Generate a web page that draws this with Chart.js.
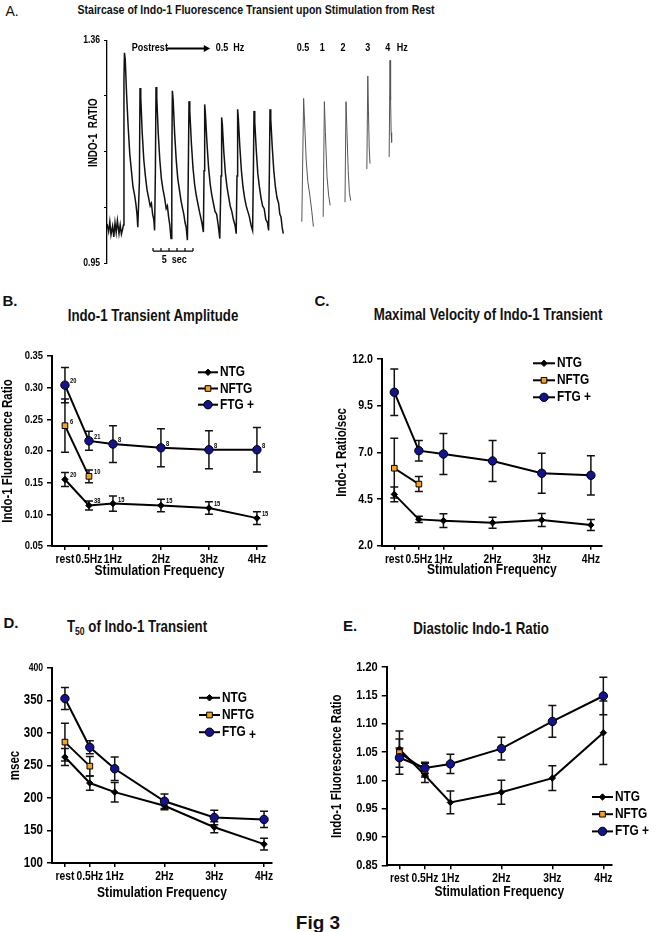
<!DOCTYPE html>
<html><head><meta charset="utf-8">
<script src="https://cdn.jsdelivr.net/npm/chart.js@4.4.0/dist/chart.umd.min.js"></script>
<style>
html,body{margin:0;padding:0;background:#fff;width:656px;height:932px;overflow:hidden;position:relative;}
canvas{position:absolute;display:block;}
.t{position:absolute;white-space:nowrap;font-family:'Liberation Sans',Arial,sans-serif;font-weight:bold;color:#111;transform:translate(-50%,-50%) scaleX(0.82);line-height:1;}
.w{transform:translate(-50%,-50%);}
sub{font-size:65%;vertical-align:-3px;}
</style></head><body>
<div class="t w" style="left:12px;top:11px;font-size:14px;font-weight:normal;">A.</div>
<div class="t" style="left:256px;top:10px;font-size:12.9px;">Staircase of Indo-1 Fluorescence Transient upon Stimulation from Rest</div>
<div class="t w" style="left:10px;top:300px;font-size:15px;">B.</div>
<div class="t" style="left:153px;top:315px;font-size:16.2px;">Indo-1 Transient Amplitude</div>
<div class="t w" style="left:322px;top:300px;font-size:15px;">C.</div>
<div class="t" style="left:488px;top:314px;font-size:16.2px;">Maximal Velocity of Indo-1 Transient</div>
<div class="t w" style="left:11px;top:622px;font-size:15px;">D.</div>
<div class="t" style="left:137px;top:627px;font-size:16.2px;">T<sub>50</sub> of Indo-1 Transient</div>
<div class="t w" style="left:350px;top:625px;font-size:15px;">E.</div>
<div class="t" style="left:481px;top:628px;font-size:16.2px;">Diastolic Indo-1 Ratio</div>
<div class="t w" style="left:318px;top:922px;font-size:19px;">Fig 3</div>

<canvas id="cA"></canvas>
<canvas id="cB"></canvas>
<canvas id="cC"></canvas>
<canvas id="cD"></canvas>
<canvas id="cE"></canvas>

<script>
// ---------------- DATA ----------------
// Panel A: raw Indo-1 ratio trace (time in s, ratio)
const traceTime = [0,0.2,0.35,0.5,0.7,0.85,1.0,1.15,1.3,1.5,1.65,1.8,1.95,
 2.05,2.12,2.18,2.28,2.45,2.65,2.85,3.05,3.25,3.45,3.6,3.75,3.85,
 4.05,4.125,4.22,4.4,4.6,4.8,5.0,5.2,5.4,5.55,5.7,5.85,5.95,
 6.05,6.125,6.22,6.4,6.6,6.8,7.0,7.2,7.4,7.55,7.7,7.85,8.0,
 8.1,8.17,8.27,8.45,8.65,8.85,9.05,9.25,9.45,9.6,9.75,9.9,10.05,
 10.15,10.25,10.35,10.55,10.75,10.95,11.15,11.35,11.55,11.7,11.85,12.05,
 12.13,12.21,12.3,12.5,12.7,12.9,13.1,13.3,13.5,13.7,13.9,14.1,
 14.25,14.33,14.42,14.6,14.8,15.0,15.2,15.4,15.6,15.8,16.0,16.15,
 16.25,16.33,16.42,16.6,16.8,17.0,17.2,17.4,17.6,17.8,18.0,18.2,
 18.3,18.375,18.47,18.65,18.85,19.05,19.25,19.45,19.65,19.85,20.05,20.2,
 20.3,20.375,20.47,20.65,20.85,21.05,21.25,21.45,21.6,21.75,21.9,22.04];
const traceRatio = [1.022,1.008,1.026,1.002,1.018,0.998,1.024,1.006,1.028,1.004,1.020,1.003,1.012,
 1.02,1.29,1.337,1.325,1.26,1.20,1.15,1.12,1.09,1.075,1.06,1.04,1.016,
 1.10,1.272,1.255,1.19,1.14,1.11,1.085,1.07,1.055,1.06,1.04,1.03,1.010,
 1.12,1.274,1.255,1.19,1.14,1.105,1.085,1.07,1.05,1.055,1.035,1.02,0.995,
 1.13,1.267,1.25,1.19,1.14,1.105,1.085,1.065,1.05,1.04,1.025,1.015,0.992,
 1.10,1.248,1.23,1.17,1.125,1.095,1.075,1.06,1.045,1.035,1.025,1.007,
 1.12,1.242,1.225,1.17,1.125,1.095,1.075,1.06,1.045,1.04,1.02,0.995,
 1.11,1.218,1.205,1.155,1.115,1.09,1.072,1.055,1.045,1.03,1.02,1.004,
 1.11,1.233,1.215,1.165,1.12,1.09,1.07,1.055,1.045,1.035,1.02,1.010,
 1.12,1.230,1.21,1.16,1.115,1.09,1.07,1.055,1.05,1.03,1.025,1.010,
 1.12,1.233,1.215,1.165,1.12,1.09,1.07,1.06,1.04,1.035,1.015,1.004];
// single transients at 0.5, 1, 2, 3, 4 Hz (null = break)
const stimTime = [24.35,24.58,24.7,24.9,25.1,25.35,25.6,25.8,26.5,
 27.02,27.17,27.3,27.5,27.7,27.9,28.8,
 29.75,29.875,30.0,30.15,30.3,30.46,31.5,
 32.48,32.6,32.68,32.78,32.875,34,
 35.27,35.375,35.45,35.52,35.58];
const stimRatio = [1.026,1.253,1.21,1.14,1.10,1.075,1.045,1.017,null,
 1.035,1.247,1.19,1.11,1.075,1.056,null,
 1.062,1.247,1.19,1.12,1.08,1.065,null,
 1.123,1.294,1.23,1.16,1.133,null,
 1.145,1.323,1.25,1.19,1.172];
const ratioTicks = [0.95, 1.0525, 1.155, 1.2575, 1.36];

// Panels B-E shared categories
const freqValues = [0, 0.5, 1, 2, 3, 4];
const freqLabels = ['rest', '0.5Hz', '1Hz', '2Hz', '3Hz', '4Hz'];
const seriesNames = ['NTG', 'NFTG', 'FTG +'];

// B: Indo-1 transient amplitude
const ampNTG = [0.155, 0.114, 0.117, 0.114, 0.110, 0.094];
const ampNTGErr = [0.011, 0.007, 0.012, 0.010, 0.010, 0.010];
const ampNTGn = ['20', '38', '15', '15', '15', '15'];
const ampNFTG = [0.240, 0.160];
const ampNFTGErr = [0.042, 0.010];
const ampNFTGn = ['6', '10'];
const ampFTG = [0.304, 0.216, 0.211, 0.205, 0.202, 0.202];
const ampFTGErr = [0.028, 0.015, 0.029, 0.030, 0.030, 0.035];
const ampFTGn = ['20', '21', '8', '8', '8', '8'];
const ampTicks = [0.05, 0.10, 0.15, 0.20, 0.25, 0.30, 0.35];

// C: maximal velocity (ratio/sec)
const velNTG = [4.75, 3.41, 3.34, 3.23, 3.38, 3.11];
const velNTGErr = [0.40, 0.17, 0.37, 0.30, 0.35, 0.30];
const velNFTG = [6.15, 5.30];
const velNFTGErr = [1.60, 0.40];
const velFTG = [10.22, 7.09, 6.91, 6.54, 5.88, 5.77];
const velFTGErr = [1.25, 0.55, 1.10, 1.10, 1.07, 1.05];
const velTicks = [2.0, 4.5, 7.0, 9.5, 12.0];

// D: T50 (msec)
const t50NTG = [263, 223, 209, 188, 155, 129];
const t50NTGErr = [13, 11, 15, 6, 8.5, 9];
const t50NFTG = [286, 249];
const t50NFTGErr = [29, 15];
const t50FTG = [353, 278, 245, 195, 170, 167];
const t50FTGErr = [17, 10, 18, 11, 11, 12.5];
const t50Ticks = [100, 150, 200, 250, 300, 350, 400];

// E: diastolic Indo-1 ratio
const diaNTG = [1.055, 1.009, 0.961, 0.979, 1.004, 1.084];
const diaNTGErr = [0.018, 0.013, 0.020, 0.021, 0.022, 0.056];
const diaNFTG = [1.049, 1.018];
const diaNFTGErr = [0.038, 0.012];
const diaFTG = [1.040, 1.022, 1.029, 1.056, 1.104, 1.149];
const diaFTGErr = [0.017, 0.010, 0.017, 0.020, 0.028, 0.033];
const diaTicks = [0.85, 0.90, 0.95, 1.00, 1.05, 1.10, 1.15, 1.20];

// ---------------- STYLE ----------------
// The figure uses a condensed bold face: draw canvas text horizontally condensed.
const SQUEEZE = 0.82;
(function () {
  const P = CanvasRenderingContext2D.prototype, ft = P.fillText;
  P.fillText = function (t, x, y, mw) {
    this.save(); this.translate(x, y); this.scale(SQUEEZE, 1);
    if (mw !== undefined && mw !== null) ft.call(this, t, 0, 0, mw / SQUEEZE); else ft.call(this, t, 0, 0);
    this.restore();
  };
})();

const FONT = "'Liberation Sans',Arial,sans-serif";
Chart.defaults.font.family = FONT;
Chart.defaults.font.weight = 'bold';
Chart.defaults.color = '#000';
Chart.defaults.animation = false;
Chart.defaults.plugins.legend.display = false;
Chart.defaults.plugins.tooltip.enabled = false;

const STY = {
  NTG:  {fill: '#000000', style: 'rectRot', radius: 3.2, order: 2},
  NFTG: {fill: '#F2A325', style: 'rect', radius: 4, order: 1},
  FTG:  {fill: '#13138C', style: 'circle', radius: 4.2, order: 0}
};

const errorBars = {
  id: 'errorBars',
  beforeDatasetsDraw(chart) {
    const ctx = chart.ctx, xs = chart.scales.x, ys = chart.scales.y;
    ctx.save(); ctx.strokeStyle = '#111'; ctx.lineWidth = 1.5;
    chart.data.datasets.forEach(ds => {
      if (!ds.errors) return;
      ds.data.forEach((p, i) => {
        const e = ds.errors[i]; if (e == null) return;
        const x = xs.getPixelForValue(p.x);
        const yt = ys.getPixelForValue(p.y + e), yb = ys.getPixelForValue(p.y - e);
        const c = 4;
        ctx.beginPath();
        ctx.moveTo(x, yt); ctx.lineTo(x, yb);
        ctx.moveTo(x - c, yt); ctx.lineTo(x + c, yt);
        ctx.moveTo(x - c, yb); ctx.lineTo(x + c, yb);
        ctx.stroke();
      });
    });
    ctx.restore();
  }
};

const nLabels = {
  id: 'nLabels',
  afterDatasetsDraw(chart) {
    const ctx = chart.ctx, xs = chart.scales.x, ys = chart.scales.y;
    ctx.save(); ctx.font = 'bold 7px ' + FONT; ctx.fillStyle = '#000';
    ctx.textBaseline = 'middle'; ctx.textAlign = 'left';
    chart.data.datasets.forEach(ds => {
      if (!ds.nLabels) return;
      ds.data.forEach((p, i) => {
        ctx.fillText(ds.nLabels[i], xs.getPixelForValue(p.x) + 5, ys.getPixelForValue(p.y) - 4);
      });
    });
    ctx.restore();
  }
};

const panelLegend = {
  id: 'panelLegend',
  afterDraw(chart, args, o) {
    if (!o || o.x == null) return;
    const ctx = chart.ctx;
    ctx.save();
    chart.data.datasets.forEach((ds, i) => {
      const y = o.y + i * o.dy;
      ctx.strokeStyle = '#000'; ctx.lineWidth = 2;
      ctx.beginPath(); ctx.moveTo(o.x, y); ctx.lineTo(o.x + o.len, y); ctx.stroke();
      ctx.fillStyle = ds.pointBackgroundColor; ctx.strokeStyle = '#000'; ctx.lineWidth = 1;
      Chart.helpers.drawPoint(ctx, {pointStyle: ds.pointStyle, radius: ds.pointRadius, borderWidth: 1, rotation: 0}, o.x + o.len / 2, y);
      ctx.fillStyle = '#000'; ctx.font = 'bold ' + o.size + 'px ' + FONT;
      ctx.textBaseline = 'middle'; ctx.textAlign = 'left';
      if (o.plusDrop && ds.label.endsWith(' +')) {
        const base = ds.label.slice(0, -2);
        ctx.fillText(base, o.x + o.len + 2, y);
        const w = ctx.measureText(base + ' ').width * SQUEEZE;
        ctx.fillText('+', o.x + o.len + 2 + w, y + o.plusDrop);
      } else {
        ctx.fillText(ds.label, o.x + o.len + 2, y);
      }
    });
    ctx.restore();
  }
};

function mkSeries(name, key, vals, errs, ns) {
  const s = STY[key];
  return {
    label: name,
    data: vals.map((v, i) => ({x: freqValues[i], y: v})),
    errors: errs, nLabels: ns || null,
    borderColor: '#000', borderWidth: 2, backgroundColor: s.fill,
    pointBackgroundColor: s.fill, pointBorderColor: '#000', pointBorderWidth: 1,
    pointStyle: s.style, pointRadius: s.radius, tension: 0, order: s.order
  };
}

// P.area = chart area in page px {l,t,r,b}; canvas placed around it.
function panel(id, P) {
  const PADT = 12;
  const cv = document.getElementById(id);
  const x = P.area.l - P.wy, y = P.area.t - PADT;
  const w = P.cw, h = P.area.b + P.hx - y;
  cv.width = w; cv.height = Math.round(h);
  cv.style.left = x + 'px'; cv.style.top = y + 'px';
  const pad = {left: 0, top: PADT, right: x + w - P.area.r, bottom: cv.height - h};
  const lg = Object.assign({}, P.legend, {x: P.legend.x - x, y: P.legend.y - y});
  return new Chart(cv, {
    type: 'line',
    data: {datasets: P.series},
    options: {
      responsive: false, animation: false, devicePixelRatio: 1,
      layout: {padding: pad},
      plugins: {panelLegend: lg},
      scales: {
        x: {
          type: 'linear', min: P.xmin, max: P.xmax,
          afterBuildTicks: sc => { sc.ticks = freqValues.map(v => ({value: v})); },
          afterFit: sc => { sc.height = P.hx; },
          ticks: {autoSkip: false, maxRotation: 0, padding: 2, font: {size: 12.5},
                  callback: v => { const k = freqValues.indexOf(v); return k >= 0 ? freqLabels[k] : ''; }},
          grid: {display: true, drawOnChartArea: false, drawTicks: true, tickLength: 4, color: '#000', lineWidth: 1.5},
          border: {display: true, color: '#000', width: 2},
          title: {display: true, text: 'Stimulation Frequency', font: {size: 14.7}, padding: {top: 0, bottom: 0}}
        },
        y: {
          type: 'linear', min: P.ymin, max: P.ymax,
          afterBuildTicks: sc => { sc.ticks = P.yTicks.map(v => ({value: v})); },
          afterFit: sc => { sc.width = P.wy; },
          ticks: {autoSkip: false, padding: 4, font: P.yFont, callback: v => v.toFixed(P.dec)},
          grid: {display: true, drawOnChartArea: false, drawTicks: true, tickLength: 5, color: '#000', lineWidth: 1.5},
          border: {display: true, color: '#000', width: 2},
          title: {display: true, text: P.yTitle, font: {size: 14}, padding: {top: 0, bottom: 0}}
        }
      }
    },
    plugins: [errorBars, panelLegend].concat(P.extra || [])
  });
}

// ---------------- PANEL A ----------------
const traceAnnot = {
  id: 'traceAnnot',
  afterDraw(chart) {
    const ctx = chart.ctx, xs = chart.scales.x, ys = chart.scales.y;
    const X = v => xs.getPixelForValue(v), Y = v => ys.getPixelForValue(v);
    ctx.save();
    ctx.fillStyle = '#000'; ctx.strokeStyle = '#000';
    ctx.font = 'bold 11px ' + FONT; ctx.textBaseline = 'middle';
    const yl = Y(1.345);
    ctx.textAlign = 'left';
    ctx.fillText('Postrest', X(3.1), yl);
    ctx.fillText('0.5  Hz', X(13.6), yl);
    // arrow
    ctx.lineWidth = 2;
    ctx.beginPath(); ctx.moveTo(X(7.5), yl); ctx.lineTo(X(12.3), yl); ctx.stroke();
    ctx.beginPath(); ctx.moveTo(X(12.9), yl); ctx.lineTo(X(12.1), yl - 3.5); ctx.lineTo(X(12.1), yl + 3.5); ctx.closePath(); ctx.fill();
    ctx.textAlign = 'center';
    [['0.5', 24.5], ['1', 26.9], ['2', 29.5], ['3', 32.6], ['4', 35.1], ['Hz', 36.9]].forEach(([t, s]) => ctx.fillText(t, X(s), yl));
    // 5 sec scale bar
    const yb = Y(0.972);
    ctx.lineWidth = 1.2;
    ctx.beginPath(); ctx.moveTo(X(5.75), yb); ctx.lineTo(X(10.75), yb);
    [5.75, 6.75, 7.75, 8.75, 9.75, 10.75].forEach(s => { ctx.moveTo(X(s), yb); ctx.lineTo(X(s), yb - 3); });
    ctx.stroke();
    ctx.fillText('5  sec', X(8.4), Y(0.956));
    // y title
    ctx.save();
    ctx.translate(X(0) - 13, Y(1.19));
    ctx.rotate(-Math.PI / 2);
    ctx.font = 'bold 12px ' + FONT;
    ctx.fillText('INDO-1  RATIO', 0, 0);
    ctx.restore();
    ctx.restore();
  }
};

(function () {
  const cv = document.getElementById('cA');
  cv.width = 360; cv.height = 247; cv.style.left = '60px'; cv.style.top = '30px';
  new Chart(cv, {
    type: 'line',
    data: {datasets: [
      {data: traceTime.map((t, i) => ({x: t, y: traceRatio[i]})), borderColor: '#111', borderWidth: 1.5, pointRadius: 0, tension: 0},
      {data: stimTime.map((t, i) => ({x: t, y: stimRatio[i]})), borderColor: '#555', borderWidth: 1, pointRadius: 0, tension: 0, spanGaps: false}
    ]},
    options: {
      responsive: false, animation: false, devicePixelRatio: 1,
      layout: {padding: {left: 0, top: 9, right: 9, bottom: 14}},
      scales: {
        x: {type: 'linear', min: 0, max: 38, display: false},
        y: {
          type: 'linear', min: 0.95, max: 1.36,
          afterBuildTicks: sc => { sc.ticks = ratioTicks.map(v => ({value: v})); },
          afterFit: sc => { sc.width = 47; },
          ticks: {autoSkip: false, padding: 4, font: {size: 10.5},
                  callback: (v, i) => (i === 0 || i === ratioTicks.length - 1) ? v.toFixed(2) : ''},
          grid: {display: true, drawOnChartArea: false, drawTicks: true, tickLength: 3, color: '#000', lineWidth: 1},
          border: {display: true, color: '#000', width: 1.3}
        }
      }
    },
    plugins: [traceAnnot]
  });
})();

// ---------------- PANELS B-E ----------------
panel('cB', {
  area: {l: 52, t: 355.7, r: 267, b: 545.7}, wy: 52, hx: 33.3, cw: 285,
  xmin: -0.27, xmax: 4.21, ymin: 0.05, ymax: 0.35, yTicks: ampTicks, dec: 2,
  yFont: {size: 11.5}, yTitle: 'Indo-1 Fluorescence Ratio',
  series: [mkSeries(seriesNames[0], 'NTG', ampNTG, ampNTGErr, ampNTGn),
           mkSeries(seriesNames[1], 'NFTG', ampNFTG, ampNFTGErr, ampNFTGn),
           mkSeries(seriesNames[2], 'FTG', ampFTG, ampFTGErr, ampFTGn)],
  legend: {x: 198, y: 372, dy: 16.2, len: 20, size: 14.5},
  extra: [nLabels]
});

panel('cC', {
  area: {l: 382, t: 359, r: 601.7, b: 545.7}, wy: 48, hx: 33.3, cw: 291,
  xmin: -0.25, xmax: 4.22, ymin: 2.0, ymax: 12.0, yTicks: velTicks, dec: 1,
  yFont: {size: 13}, yTitle: 'Indo-1 Ratio/sec',
  series: [mkSeries(seriesNames[0], 'NTG', velNTG, velNTGErr),
           mkSeries(seriesNames[1], 'NFTG', velNFTG, velNFTGErr),
           mkSeries(seriesNames[2], 'FTG', velFTG, velFTGErr)],
  legend: {x: 533, y: 363.3, dy: 17, len: 22, size: 14.5}
});

panel('cD', {
  area: {l: 52, t: 667.5, r: 272, b: 862.5}, wy: 45, hx: 39, cw: 285,
  xmin: -0.26, xmax: 4.16, ymin: 100, ymax: 400, yTicks: t50Ticks, dec: 0,
  yFont: ctx => ({size: (ctx.tick && ctx.tick.value === 400) ? 10.5 : 14}), yTitle: 'msec',
  series: [mkSeries(seriesNames[0], 'NTG', t50NTG, t50NTGErr),
           mkSeries(seriesNames[1], 'NFTG', t50NFTG, t50NFTGErr),
           mkSeries(seriesNames[2], 'FTG', t50FTG, t50FTGErr)],
  legend: {x: 199, y: 697.3, dy: 17.2, len: 21, size: 14.5, plusDrop: 3}
});

panel('cE', {
  area: {l: 386.7, t: 667.3, r: 612, b: 865.6}, wy: 57.7, hx: 35.8, cw: 327,
  xmin: -0.25, xmax: 4.17, ymin: 0.85, ymax: 1.20, yTicks: diaTicks, dec: 2,
  yFont: {size: 13.5}, yTitle: 'Indo-1 Fluorescence Ratio',
  series: [mkSeries(seriesNames[0], 'NTG', diaNTG, diaNTGErr),
           mkSeries(seriesNames[1], 'NFTG', diaNFTG, diaNFTGErr),
           mkSeries(seriesNames[2], 'FTG', diaFTG, diaFTGErr)],
  legend: {x: 592, y: 797.3, dy: 17.2, len: 21, size: 14.5}
});
</script>
</body></html>
